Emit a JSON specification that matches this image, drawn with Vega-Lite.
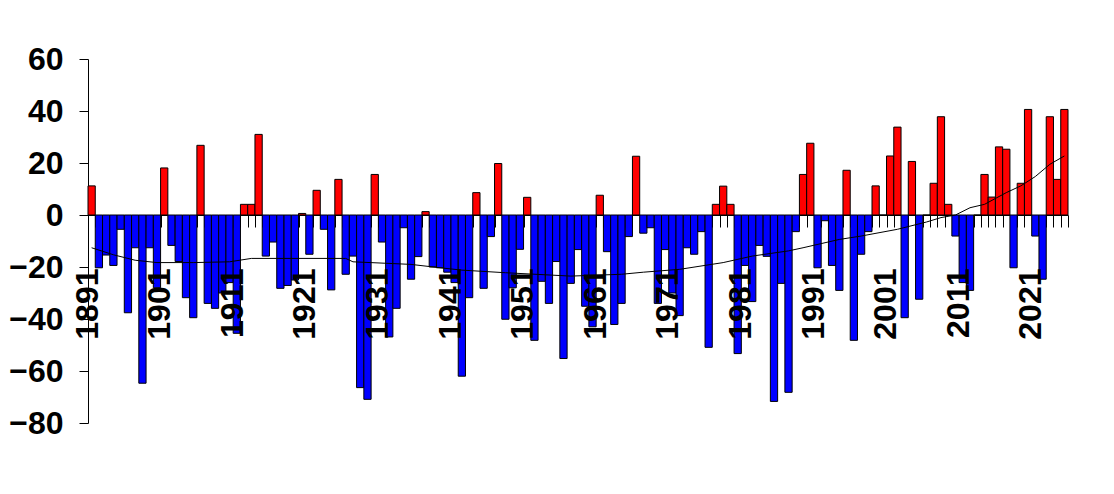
{
  "$schema": "https://vega.github.io/schema/vega-lite/v6.json",
  "width": 980,
  "height": 364,
  "autosize": {"type": "none"},
  "padding": {"left": 88, "top": 59, "right": 46, "bottom": 71},
  "background": "white",
  "config": {"view": {"stroke": null}},
  "datasets": {
    "bars": [
      {"year": 1891, "value": 11.2}, {"year": 1892, "value": -20.3}, {"year": 1893, "value": -15.4}, {"year": 1894, "value": -19.4}, {"year": 1895, "value": -5.5},
      {"year": 1896, "value": -37.6}, {"year": 1897, "value": -12.6}, {"year": 1898, "value": -64.7}, {"year": 1899, "value": -12.6}, {"year": 1900, "value": -28},
      {"year": 1901, "value": 18.1}, {"year": 1902, "value": -11.7}, {"year": 1903, "value": -17.9}, {"year": 1904, "value": -31.8}, {"year": 1905, "value": -39.5},
      {"year": 1906, "value": 26.8}, {"year": 1907, "value": -34}, {"year": 1908, "value": -35.9}, {"year": 1909, "value": -30}, {"year": 1910, "value": -26},
      {"year": 1911, "value": -45.5}, {"year": 1912, "value": 4.1}, {"year": 1913, "value": 4.1}, {"year": 1914, "value": 31.0}, {"year": 1915, "value": -15.8},
      {"year": 1916, "value": -10.4}, {"year": 1917, "value": -28.2}, {"year": 1918, "value": -27.1}, {"year": 1919, "value": -25}, {"year": 1920, "value": 0.6},
      {"year": 1921, "value": -15.1}, {"year": 1922, "value": 9.5}, {"year": 1923, "value": -5.5}, {"year": 1924, "value": -28.8}, {"year": 1925, "value": 13.7},
      {"year": 1926, "value": -22.8}, {"year": 1927, "value": -15.8}, {"year": 1928, "value": -66.4}, {"year": 1929, "value": -70.9}, {"year": 1930, "value": 15.6},
      {"year": 1931, "value": -10.4}, {"year": 1932, "value": -46.9}, {"year": 1933, "value": -35.9}, {"year": 1934, "value": -4.9}, {"year": 1935, "value": -24.7},
      {"year": 1936, "value": -16}, {"year": 1937, "value": 1.3}, {"year": 1938, "value": -20}, {"year": 1939, "value": -20.3}, {"year": 1940, "value": -22},
      {"year": 1941, "value": -26}, {"year": 1942, "value": -62}, {"year": 1943, "value": -31.8}, {"year": 1944, "value": 8.6}, {"year": 1945, "value": -28.2},
      {"year": 1946, "value": -8.3}, {"year": 1947, "value": 19.8}, {"year": 1948, "value": -40.1}, {"year": 1949, "value": -28}, {"year": 1950, "value": -13.2},
      {"year": 1951, "value": 6.8}, {"year": 1952, "value": -48.2}, {"year": 1953, "value": -25.5}, {"year": 1954, "value": -34}, {"year": 1955, "value": -17.9},
      {"year": 1956, "value": -55.2}, {"year": 1957, "value": -26.3}, {"year": 1958, "value": -13.3}, {"year": 1959, "value": -35.1}, {"year": 1960, "value": -43},
      {"year": 1961, "value": 7.6}, {"year": 1962, "value": -14.1}, {"year": 1963, "value": -42.1}, {"year": 1964, "value": -34}, {"year": 1965, "value": -8.3},
      {"year": 1966, "value": 22.6}, {"year": 1967, "value": -7}, {"year": 1968, "value": -4.9}, {"year": 1969, "value": -34}, {"year": 1970, "value": -13.3},
      {"year": 1971, "value": -30}, {"year": 1972, "value": -38.7}, {"year": 1973, "value": -12.6}, {"year": 1974, "value": -15.1}, {"year": 1975, "value": -6.4},
      {"year": 1976, "value": -50.9}, {"year": 1977, "value": 4.1}, {"year": 1978, "value": 11.1}, {"year": 1979, "value": 4.1}, {"year": 1980, "value": -53.3},
      {"year": 1981, "value": -19.4}, {"year": 1982, "value": -33.3}, {"year": 1983, "value": -11.7}, {"year": 1984, "value": -15.9}, {"year": 1985, "value": -71.7},
      {"year": 1986, "value": -26.3}, {"year": 1987, "value": -68.2}, {"year": 1988, "value": -6.4}, {"year": 1989, "value": 15.6}, {"year": 1990, "value": 27.6},
      {"year": 1991, "value": -20.3}, {"year": 1992, "value": -2.2}, {"year": 1993, "value": -19.4}, {"year": 1994, "value": -29}, {"year": 1995, "value": 17.2},
      {"year": 1996, "value": -48.2}, {"year": 1997, "value": -15.1}, {"year": 1998, "value": -6.4}, {"year": 1999, "value": 11.2}, {"year": 2000, "value": 0},
      {"year": 2001, "value": 22.7}, {"year": 2002, "value": 33.8}, {"year": 2003, "value": -39.5}, {"year": 2004, "value": 20.6}, {"year": 2005, "value": -32.4},
      {"year": 2006, "value": 0}, {"year": 2007, "value": 12.2}, {"year": 2008, "value": 37.8}, {"year": 2009, "value": 4.1}, {"year": 2010, "value": -8.1},
      {"year": 2011, "value": -26}, {"year": 2012, "value": -29}, {"year": 2013, "value": 0}, {"year": 2014, "value": 15.6}, {"year": 2015, "value": 6.9},
      {"year": 2016, "value": 26.2}, {"year": 2017, "value": 25.3}, {"year": 2018, "value": -20.3}, {"year": 2019, "value": 12.2}, {"year": 2020, "value": 40.6},
      {"year": 2021, "value": -8.1}, {"year": 2022, "value": -24.7}, {"year": 2023, "value": 37.8}, {"year": 2024, "value": 13.7}, {"year": 2025, "value": 40.6}
    ],
    "trend": [
      {"year": 1891, "trend": -12.6}, {"year": 1894, "trend": -15.3}, {"year": 1897, "trend": -17.4}, {"year": 1900, "trend": -18.3},
      {"year": 1905, "trend": -18.3}, {"year": 1910, "trend": -18}, {"year": 1913, "trend": -16.7}, {"year": 1926, "trend": -16.7},
      {"year": 1927, "trend": -18}, {"year": 1935, "trend": -19}, {"year": 1939, "trend": -20.3}, {"year": 1942, "trend": -21.2},
      {"year": 1948, "trend": -22.2}, {"year": 1957, "trend": -23.5}, {"year": 1964, "trend": -22.8}, {"year": 1967, "trend": -22},
      {"year": 1972, "trend": -20.9}, {"year": 1978, "trend": -18.3}, {"year": 1982, "trend": -15.8}, {"year": 1987, "trend": -13.8},
      {"year": 1989, "trend": -12.6}, {"year": 1994, "trend": -9.4}, {"year": 1997, "trend": -8.1}, {"year": 2002, "trend": -5.5},
      {"year": 2006, "trend": -2.7}, {"year": 2008, "trend": -1.0}, {"year": 2010, "trend": 0}, {"year": 2012, "trend": 2.8},
      {"year": 2014, "trend": 4.1}, {"year": 2017, "trend": 8.6}, {"year": 2019, "trend": 11.2}, {"year": 2021, "trend": 14.8},
      {"year": 2023, "trend": 19.5}, {"year": 2025, "trend": 22.7}
    ]
  },
  "layer": [
    {
      "data": {"name": "bars"},
      "mark": {"type": "bar", "stroke": "#000000", "strokeWidth": 1},
      "encoding": {
        "x": {
          "field": "year", "type": "ordinal",
          "scale": {"paddingInner": 0, "paddingOuter": 0},
          "axis": {
            "orient": "bottom", "offset": -208, "title": null, "labels": false,
            "tickBand": "extent", "tickSize": 12, "tickColor": "#000000", "tickWidth": 1,
            "domain": true, "domainColor": "#000000", "domainWidth": 1, "grid": false, "zindex": 0
          }
        },
        "y": {
          "field": "value", "type": "quantitative", "stack": null,
          "scale": {"domain": [-80, 60], "nice": false, "zero": false},
          "axis": {
            "title": null, "values": [-80, -60, -40, -20, 0, 20, 40, 60], "grid": false,
            "domainColor": "#000000", "tickColor": "#000000", "tickSize": 9,
            "labelFont": "Liberation Sans", "labelFontWeight": "bold", "labelFontSize": 32,
            "labelColor": "#000000", "labelPadding": 16, "labelBaseline": "middle"
          }
        },
        "fill": {"condition": {"test": "datum.value > 0", "value": "#ff0000"}, "value": "#0000ff"}
      }
    },
    {
      "data": {"name": "trend"},
      "mark": {"type": "line", "color": "#000000", "strokeWidth": 1},
      "encoding": {
        "x": {
          "field": "year", "type": "ordinal",
          "axis": {
            "orient": "bottom", "offset": -208, "title": null, "ticks": false, "tickSize": 0, "domain": false, "grid": false,
            "values": [1891, 1901, 1911, 1921, 1931, 1941, 1951, 1961, 1971, 1981, 1991, 2001, 2011, 2021],
            "labelAngle": -90, "labelAlign": "right", "labelBaseline": "middle", "labelPadding": 53, "labelOffset": -4,
            "labelFont": "Liberation Sans", "labelFontWeight": "bold", "labelFontSize": 32, "labelColor": "#000000",
            "labelOverlap": false, "zindex": 2
          }
        },
        "y": {"field": "trend", "type": "quantitative"}
      }
    }
  ],
  "resolve": {"axis": {"x": "independent"}}
}
